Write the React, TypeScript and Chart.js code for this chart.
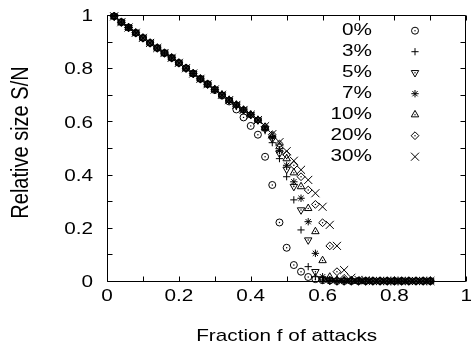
import React, { useEffect, useRef } from "react";
import { Chart, registerables } from "chart.js";
import { drawPoint } from "chart.js/helpers";

Chart.register(...registerables);

// Fraction f of attacked nodes (x)
const attackFraction = [
  0.02, 0.04, 0.06, 0.08, 0.1, 0.12, 0.14, 0.16, 0.18, 0.2, 0.22, 0.24, 0.26, 0.28, 0.3,
  0.32, 0.34, 0.36, 0.38, 0.4, 0.42, 0.44, 0.46, 0.48, 0.5, 0.52, 0.54, 0.56, 0.58, 0.6,
  0.62, 0.64, 0.66, 0.68, 0.7, 0.72, 0.74, 0.76, 0.78, 0.8, 0.82, 0.84, 0.86, 0.88, 0.9,
];

// Relative size S/N of the giant component for each series
const size0 = [
  0.995, 0.973, 0.953, 0.933, 0.914, 0.895, 0.876, 0.857, 0.839, 0.82, 0.8, 0.78, 0.76, 0.74,
  0.718, 0.697, 0.675, 0.645, 0.615, 0.583, 0.55, 0.467, 0.361, 0.22, 0.125, 0.06, 0.035,
  0.015, 0.007, 0.003, 0.002, 0, 0, 0, 0, 0, 0, 0, 0, 0, 0, 0, 0, 0, 0,
];
const size3 = [
  0.995, 0.973, 0.953, 0.933, 0.914, 0.895, 0.876, 0.857, 0.839, 0.82, 0.8, 0.78, 0.76, 0.74,
  0.72, 0.7, 0.68, 0.662, 0.643, 0.625, 0.605, 0.565, 0.52, 0.46, 0.392, 0.305, 0.192, 0.054,
  0.016, 0.004, 0.002, 0, 0, 0, 0, 0, 0, 0, 0, 0, 0, 0, 0, 0, 0,
];
const size5 = [
  0.995, 0.973, 0.953, 0.933, 0.914, 0.895, 0.876, 0.857, 0.839, 0.82, 0.8, 0.78, 0.76, 0.74,
  0.72, 0.7, 0.68, 0.662, 0.643, 0.625, 0.605, 0.572, 0.535, 0.48, 0.42, 0.355, 0.267, 0.154,
  0.035, 0.006, 0.002, 0, 0, 0, 0, 0, 0, 0, 0, 0, 0, 0, 0, 0, 0,
];
const size7 = [
  0.995, 0.973, 0.953, 0.933, 0.914, 0.895, 0.876, 0.857, 0.839, 0.82, 0.8, 0.78, 0.76, 0.74,
  0.72, 0.7, 0.68, 0.662, 0.643, 0.625, 0.605, 0.575, 0.54, 0.49, 0.435, 0.373, 0.311, 0.223,
  0.104, 0.016, 0.004, 0.002, 0, 0, 0, 0, 0, 0, 0, 0, 0, 0, 0, 0, 0,
];
const size10 = [
  0.995, 0.973, 0.953, 0.933, 0.914, 0.895, 0.876, 0.857, 0.839, 0.82, 0.8, 0.78, 0.76, 0.74,
  0.72, 0.7, 0.68, 0.662, 0.643, 0.625, 0.605, 0.578, 0.545, 0.505, 0.46, 0.407, 0.355, 0.273,
  0.186, 0.077, 0.015, 0.004, 0.002, 0, 0, 0, 0, 0, 0, 0, 0, 0, 0, 0, 0,
];
const size20 = [
  0.995, 0.973, 0.953, 0.933, 0.914, 0.895, 0.876, 0.857, 0.839, 0.82, 0.8, 0.78, 0.76, 0.74,
  0.72, 0.7, 0.68, 0.662, 0.643, 0.625, 0.605, 0.58, 0.55, 0.515, 0.475, 0.435, 0.392, 0.342,
  0.288, 0.219, 0.132, 0.035, 0.01, 0.003, 0, 0, 0, 0, 0, 0, 0, 0, 0, 0, 0,
];
const size30 = [
  0.995, 0.973, 0.953, 0.933, 0.914, 0.895, 0.876, 0.857, 0.839, 0.82, 0.8, 0.78, 0.76, 0.74,
  0.72, 0.7, 0.68, 0.662, 0.643, 0.625, 0.605, 0.582, 0.552, 0.522, 0.488, 0.452, 0.418, 0.38,
  0.33, 0.279, 0.211, 0.132, 0.041, 0.012, 0.004, 0.002, 0, 0, 0, 0, 0, 0, 0, 0, 0,
];

const seriesLabels = ["0%", "3%", "5%", "7%", "10%", "20%", "30%"];
const seriesValues = [size0, size3, size5, size7, size10, size20, size30];

// Marker per series: built-in point style, radius, rotation, and whether a centre dot is added
const seriesMarkers = [
  { pointStyle: "circle", radius: 3.5, rotation: 0, dot: true },
  { pointStyle: "cross", radius: 3.6, rotation: 0, dot: false },
  { pointStyle: "triangle", radius: 4.3, rotation: 180, dot: true },
  { pointStyle: "star", radius: 3.7, rotation: 0, dot: false },
  { pointStyle: "triangle", radius: 4.3, rotation: 0, dot: true },
  { pointStyle: "rectRot", radius: 3.9, rotation: 0, dot: true },
  { pointStyle: "crossRot", radius: 5.7, rotation: 0, dot: false },
];

const xTickValues = [0, 0.2, 0.4, 0.6, 0.8, 1];
const xTickLabels = ["0", "0.2", "0.4", "0.6", "0.8", "1"];
const yTickValues = [0, 0.2, 0.4, 0.6, 0.8, 1];
const yTickLabels = ["0", "0.2", "0.4", "0.6", "0.8", "1"];
const frameTickValues = [0, 0.1, 0.2, 0.3, 0.4, 0.5, 0.6, 0.7, 0.8, 0.9, 1];

const xTitle = "Fraction f of attacks";
const yTitle = "Relative size S/N";

const FONT_FAMILY = '"Liberation Sans", Arial, Helvetica, sans-serif';
const TEXT_SIZE = 17;
const TEXT_STRETCH = 1.22;

function stretchedText(
  ctx: CanvasRenderingContext2D,
  text: string,
  x: number,
  y: number,
  align: CanvasTextAlign,
  size: number,
  sx: number
) {
  ctx.save();
  ctx.translate(x, y);
  ctx.scale(sx, 1);
  ctx.font = `${size}px ${FONT_FAMILY}`;
  ctx.textAlign = align;
  ctx.textBaseline = "alphabetic";
  ctx.fillStyle = "#000";
  ctx.fillText(text, 0, 0);
  ctx.restore();
}

// Centre dots on the open circle / triangle / diamond markers
const markerDotPlugin = {
  id: "markerDots",
  afterDatasetsDraw(chart: any) {
    const ctx: CanvasRenderingContext2D = chart.ctx;
    ctx.save();
    ctx.fillStyle = "#000";
    chart.data.datasets.forEach((ds: any, i: number) => {
      if (!seriesMarkers[i].dot) return;
      const meta = chart.getDatasetMeta(i);
      for (const el of meta.data) {
        ctx.beginPath();
        ctx.arc(el.x, el.y, 0.7, 0, Math.PI * 2);
        ctx.fill();
      }
    });
    ctx.restore();
  },
};

// Box frame with inward ticks, tick labels, axis titles and the key
const framePlugin = {
  id: "gnuplotFrame",
  afterDraw(chart: any) {
    const ctx: CanvasRenderingContext2D = chart.ctx;
    const xs = chart.scales.x;
    const ys = chart.scales.y;
    const { left, right, top, bottom } = chart.chartArea;
    const L = Math.round(left) + 0.5;
    const R = Math.round(right) - 0.5;
    const T = Math.round(top) + 0.5;
    const B = Math.round(bottom) + 0.5;
    const tick = 5;

    ctx.save();
    ctx.strokeStyle = "#000";
    ctx.lineWidth = 1;
    ctx.beginPath();
    ctx.rect(L, T, R - L, B - T);
    for (const v of frameTickValues) {
      const px = Math.round(xs.getPixelForValue(v)) + 0.5;
      ctx.moveTo(px, B);
      ctx.lineTo(px, B - tick);
      ctx.moveTo(px, T);
      ctx.lineTo(px, T + tick);
      const py = Math.round(ys.getPixelForValue(v)) + 0.5;
      ctx.moveTo(L, py);
      ctx.lineTo(L + tick, py);
      ctx.moveTo(R, py);
      ctx.lineTo(R - tick, py);
    }
    ctx.stroke();
    ctx.restore();

    xTickValues.forEach((v, i) => {
      stretchedText(ctx, xTickLabels[i], xs.getPixelForValue(v), bottom + 19.5, "center", TEXT_SIZE, TEXT_STRETCH);
    });
    yTickValues.forEach((v, i) => {
      stretchedText(ctx, yTickLabels[i], left - 14, ys.getPixelForValue(v) + 6.2, "right", TEXT_SIZE, TEXT_STRETCH);
    });

    stretchedText(ctx, xTitle, (left + right) / 2, 341, "center", TEXT_SIZE, TEXT_STRETCH);

    ctx.save();
    ctx.translate(27.5, 142.5);
    ctx.rotate(-Math.PI / 2);
    ctx.scale(1, 1.15);
    ctx.font = `20px ${FONT_FAMILY}`;
    ctx.textAlign = "center";
    ctx.textBaseline = "alphabetic";
    ctx.fillStyle = "#000";
    ctx.fillText(yTitle, 0, 0);
    ctx.restore();

    // key: right-aligned label, marker to its right
    chart.data.datasets.forEach((ds: any, i: number) => {
      const base = 35 + 21 * i;
      stretchedText(ctx, ds.label, 372, base, "right", TEXT_SIZE, TEXT_STRETCH);
      const mk = seriesMarkers[i];
      const cy = base - 4.3;
      ctx.save();
      ctx.strokeStyle = "#000";
      ctx.fillStyle = "rgba(0,0,0,0)";
      ctx.lineWidth = 1;
      drawPoint(ctx, { pointStyle: mk.pointStyle, radius: mk.radius, rotation: mk.rotation, borderWidth: 1 } as any, 415, cy);
      if (mk.dot) {
        ctx.fillStyle = "#000";
        ctx.beginPath();
        ctx.arc(415, cy, 0.7, 0, Math.PI * 2);
        ctx.fill();
      }
      ctx.restore();
    });
  },
};

export default function App() {
  const ref = useRef<HTMLCanvasElement>(null);

  useEffect(() => {
    const datasets = seriesLabels.map((label, i) => ({
      label,
      data: attackFraction.map((f, k) => ({ x: f, y: seriesValues[i][k] })),
      pointStyle: seriesMarkers[i].pointStyle,
      pointRadius: seriesMarkers[i].radius,
      pointRotation: seriesMarkers[i].rotation,
      pointBorderWidth: 1,
      showLine: false,
      clip: false as const,
      borderColor: "#000",
      backgroundColor: "rgba(0,0,0,0)",
    }));

    const chart = new Chart(ref.current!, {
      type: "scatter",
      data: { datasets },
      options: {
        responsive: false,
        animation: false,
        devicePixelRatio: 1,
        events: [],
        layout: { padding: { left: 0, right: 3, top: 15, bottom: 0 } },
        plugins: { legend: { display: false }, tooltip: { enabled: false } },
        scales: {
          x: {
            type: "linear",
            min: 0,
            max: 1,
            grid: { display: false, drawTicks: false },
            border: { display: false },
            ticks: { display: false },
            afterFit: (s: any) => {
              s.height = 69;
              s.paddingLeft = 0;
              s.paddingRight = 0;
            },
          },
          y: {
            type: "linear",
            min: 0,
            max: 1,
            grid: { display: false, drawTicks: false },
            border: { display: false },
            ticks: { display: false },
            afterFit: (s: any) => {
              s.width = 107;
              s.paddingTop = 0;
              s.paddingBottom = 0;
            },
          },
        },
      },
      plugins: [markerDotPlugin, framePlugin],
    } as any);

    return () => chart.destroy();
  }, []);

  return (
    <div style={{ position: "fixed", left: 0, top: 0, width: 473, height: 350, background: "#fff" }}>
      <canvas ref={ref} width={473} height={350} style={{ display: "block", width: 473, height: 350 }} />
    </div>
  );
}
